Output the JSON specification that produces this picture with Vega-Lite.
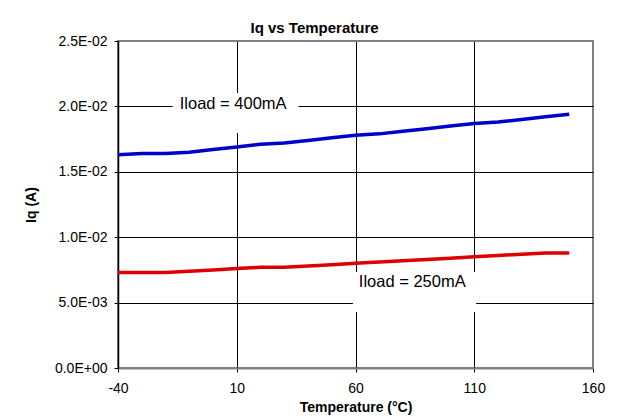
{
  "$schema": "https://vega.github.io/schema/vega-lite/v6.json",
  "width": 475,
  "height": 327,
  "autosize": "none",
  "padding": {"left": 118, "top": 41, "right": 25, "bottom": 51},
  "background": "white",
  "title": {
    "text": "Iq vs Temperature",
    "fontSize": 15,
    "fontWeight": "bold",
    "font": "Liberation Sans",
    "color": "black",
    "anchor": "middle",
    "frame": "bounds",
    "offset": -2
  },
  "config": {
    "font": "Liberation Sans",
    "view": {"stroke": "#808080", "strokeWidth": 2},
    "axis": {
      "labelFont": "Liberation Sans",
      "labelFontSize": 14,
      "labelColor": "black",
      "titleFont": "Liberation Sans",
      "titleFontSize": 14,
      "titleFontWeight": "bold",
      "titleColor": "black",
      "tickColor": "black",
      "tickSize": 4,
      "gridOpacity": 1,
      "gridWidth": 1
    }
  },
  "layer": [
    {
      "data": {
        "values": [
          {"label": "Iload = 400mA", "t0": -17, "t1": 36, "i0": 0.01797, "i1": 0.02102},
          {"label": "Iload = 250mA", "t0": 58.9, "t1": 110.8, "i0": 0.00428, "i1": 0.00734}
        ]
      },
      "mark": {"type": "rect", "fill": "white", "stroke": null},
      "encoding": {
        "x": {"field": "t0", "type": "quantitative", "scale": {"domain": [-40, 160], "nice": false, "zero": false},
          "axis": {
            "title": "Temperature (°C)",
            "values": [-40, 10, 60, 110, 160],
            "labelExpr": "datum.value < 0 ? '-' + abs(datum.value) : '' + datum.value",
            "labelFlush": false,
            "grid": true,
            "gridColor": {"condition": {"test": "datum.value == 160", "value": "#808080"}, "value": "black"},
            "domainColor": "#808080",
            "domainWidth": 2,
            "labelPadding": 9,
            "titlePadding": 5
          }},
        "x2": {"field": "t1"},
        "y": {"field": "i0", "type": "quantitative", "scale": {"domain": [0, 0.025], "nice": false},
          "axis": {
            "title": "Iq (A)",
            "values": [0, 0.005, 0.01, 0.015, 0.02, 0.025],
            "labelExpr": "replace(replace(format(datum.value, '.1e'), 'e-', 'E-0'), 'e+', 'E+0')",
            "grid": true,
            "gridColor": {"condition": {"test": "datum.value == 0.025 || datum.value == 0", "value": "#808080"}, "value": "black"},
            "domainColor": "black",
            "domainWidth": 1.5,
            "labelPadding": 7,
            "titlePadding": 16
          }},
        "y2": {"field": "i1"}
      }
    },
    {
      "data": {
        "values": [
          {"temp": -40, "iq": 0.0163, "load": "400mA"},
          {"temp": -30, "iq": 0.0164, "load": "400mA"},
          {"temp": -20, "iq": 0.0164, "load": "400mA"},
          {"temp": -10, "iq": 0.0165, "load": "400mA"},
          {"temp": 0, "iq": 0.0167, "load": "400mA"},
          {"temp": 10, "iq": 0.0169, "load": "400mA"},
          {"temp": 20, "iq": 0.0171, "load": "400mA"},
          {"temp": 30, "iq": 0.0172, "load": "400mA"},
          {"temp": 40, "iq": 0.0174, "load": "400mA"},
          {"temp": 50, "iq": 0.0176, "load": "400mA"},
          {"temp": 60, "iq": 0.0178, "load": "400mA"},
          {"temp": 70, "iq": 0.0179, "load": "400mA"},
          {"temp": 80, "iq": 0.0181, "load": "400mA"},
          {"temp": 90, "iq": 0.0183, "load": "400mA"},
          {"temp": 100, "iq": 0.0185, "load": "400mA"},
          {"temp": 110, "iq": 0.0187, "load": "400mA"},
          {"temp": 120, "iq": 0.0188, "load": "400mA"},
          {"temp": 130, "iq": 0.0190, "load": "400mA"},
          {"temp": 140, "iq": 0.0192, "load": "400mA"},
          {"temp": 150, "iq": 0.0194, "load": "400mA"},
          {"temp": -40, "iq": 0.0073, "load": "250mA"},
          {"temp": -30, "iq": 0.0073, "load": "250mA"},
          {"temp": -20, "iq": 0.0073, "load": "250mA"},
          {"temp": -10, "iq": 0.0074, "load": "250mA"},
          {"temp": 0, "iq": 0.0075, "load": "250mA"},
          {"temp": 10, "iq": 0.0076, "load": "250mA"},
          {"temp": 20, "iq": 0.0077, "load": "250mA"},
          {"temp": 30, "iq": 0.0077, "load": "250mA"},
          {"temp": 40, "iq": 0.0078, "load": "250mA"},
          {"temp": 50, "iq": 0.0079, "load": "250mA"},
          {"temp": 60, "iq": 0.0080, "load": "250mA"},
          {"temp": 70, "iq": 0.0081, "load": "250mA"},
          {"temp": 80, "iq": 0.0082, "load": "250mA"},
          {"temp": 90, "iq": 0.0083, "load": "250mA"},
          {"temp": 100, "iq": 0.0084, "load": "250mA"},
          {"temp": 110, "iq": 0.0085, "load": "250mA"},
          {"temp": 120, "iq": 0.0086, "load": "250mA"},
          {"temp": 130, "iq": 0.0087, "load": "250mA"},
          {"temp": 140, "iq": 0.0088, "load": "250mA"},
          {"temp": 150, "iq": 0.0088, "load": "250mA"}
        ]
      },
      "mark": {"type": "line", "strokeWidth": 3.5},
      "encoding": {
        "x": {"field": "temp", "type": "quantitative"},
        "y": {"field": "iq", "type": "quantitative"},
        "color": {"field": "load", "type": "nominal", "legend": null,
          "scale": {"domain": ["400mA", "250mA"], "range": ["#0000CC", "#DD0000"]}}
      }
    },
    {
      "data": {
        "values": [
          {"label": "Iload = 400mA", "temp": 8.5, "iq": 0.0202},
          {"label": "Iload = 250mA", "temp": 83.9, "iq": 0.00657}
        ]
      },
      "mark": {"type": "text", "fontSize": 16.5, "font": "Liberation Sans", "color": "black", "align": "center", "baseline": "middle"},
      "encoding": {
        "x": {"field": "temp", "type": "quantitative"},
        "y": {"field": "iq", "type": "quantitative"},
        "text": {"field": "label"}
      }
    }
  ]
}
